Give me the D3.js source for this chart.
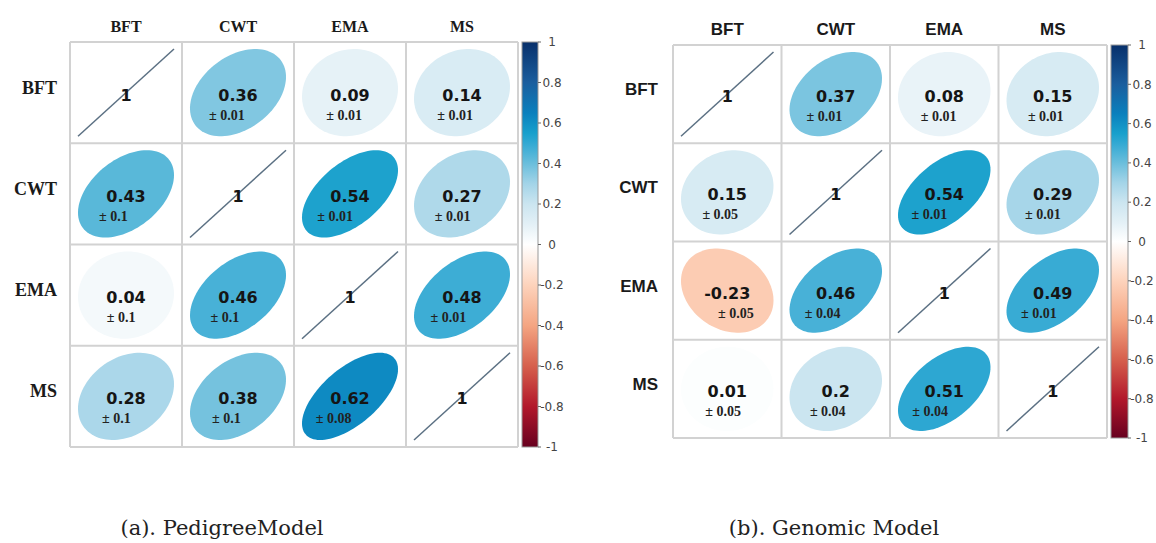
<!DOCTYPE html>
<html><head><meta charset="utf-8">
<script src="https://cdn.jsdelivr.net/npm/d3@7"></script>
<style>html,body{margin:0;padding:0;background:#fff;}</style>
</head><body>
<svg id="chart" width="1156" height="543"></svg>
<script>
const vars = ["BFT", "CWT", "EMA", "MS"];
const pedigreeR = [[1, 0.36, 0.09, 0.14], [0.43, 1, 0.54, 0.27], [0.04, 0.46, 1, 0.48], [0.28, 0.38, 0.62, 1]];
const pedigreeSE = [[null, "0.01", "0.01", "0.01"], ["0.1", null, "0.01", "0.01"], ["0.1", "0.1", null, "0.01"], ["0.1", "0.1", "0.08", null]];
const genomicR = [[1, 0.37, 0.08, 0.15], [0.15, 1, 0.54, 0.29], [-0.23, 0.46, 1, 0.49], [0.01, 0.2, 0.51, 1]];
const genomicSE = [[null, "0.01", "0.01", "0.01"], ["0.05", null, "0.01", "0.01"], ["0.05", "0.04", null, "0.01"], ["0.05", "0.04", "0.04", null]];
const legendTicks = [1, 0.8, 0.6, 0.4, 0.2, 0, -0.2, -0.4, -0.6, -0.8, -1];
const captions = ["(a). PedigreeModel", "(b). Genomic Model"];

const colStops = [-1, -0.8, -0.6, -0.4, -0.2, 0, 0.1, 0.2, 0.3, 0.4, 0.5, 0.55, 0.65, 0.8, 1];
const colVals = ["#67001F", "#B2182B", "#D6604D", "#F4A582", "#FDD3BC", "#FFFFFF", "#E3F0F6", "#CBE5F0", "#A3D4E8", "#6ABEDC", "#32A9D3", "#18A0CC", "#0A80BD", "#1B5E9E", "#08306B"];
const color = d3.scaleLinear().domain(colStops).range(colVals).interpolate(d3.interpolateRgb);

const svg = d3.select("#chart");

const panels = [
  {R: pedigreeR, SE: pedigreeSE, x0: 70, x1: 518, y0: 42, y1: 447, bar: [522, 538],
   headFont: "'Liberation Serif', serif", headSize: 16, rowSize: 18, rowX: 57, cap: captions[0], capX: 222},
  {R: genomicR, SE: genomicSE, x0: 673, x1: 1107, y0: 45, y1: 438, bar: [1111, 1128],
   headFont: "'Liberation Sans', Arial, sans-serif", headSize: 17, rowSize: 17, rowX: 658, cap: captions[1], capX: 834}
];

panels.forEach(p => {
  const g = svg.append("g");
  const xs = d3.scaleBand().domain(vars).range([p.x0, p.x1]);
  const ys = d3.scaleBand().domain(vars).range([p.y0, p.y1]);
  const cw = xs.bandwidth(), ch = ys.bandwidth();

  g.append("rect").attr("x", p.x0).attr("y", p.y0).attr("width", p.x1 - p.x0).attr("height", p.y1 - p.y0)
    .attr("fill", "#fff");

  const cells = [];
  vars.forEach((rv, i) => vars.forEach((cv, j) => cells.push({i, j, r: p.R[i][j], se: p.SE[i][j], rv, cv})));

  const cg = g.selectAll("g.cell").data(cells).join("g").attr("class", "cell")
    .attr("transform", d => `translate(${xs(d.cv) + cw / 2},${ys(d.rv) + ch / 2})`);

  const rx = cw / 2 - 8, ry = ch / 2 - 7;
  const ell = r => {
    const d = Math.acos(Math.max(-1, Math.min(1, r)));
    const pts = d3.range(0, 100).map(k => {
      const t = k / 100 * 2 * Math.PI;
      return [Math.cos(t + d / 2) * rx, -Math.cos(t - d / 2) * ry];
    });
    return d3.line().curve(d3.curveLinearClosed)(pts);
  };

  cg.filter(d => d.i !== d.j).append("path")
    .attr("d", d => ell(d.r)).attr("fill", d => color(d.r)).attr("stroke", "none");

  cg.filter(d => d.i === d.j).append("line")
    .attr("x1", -rx).attr("y1", ry).attr("x2", rx).attr("y2", -ry)
    .attr("stroke", "#5b7083").attr("stroke-width", 1.5);

  cg.append("text").attr("text-anchor", "middle").attr("y", 8)
    .attr("font-family", "'DejaVu Sans', sans-serif").attr("font-weight", "bold").attr("font-size", 16)
    .attr("fill", "#151515").text(d => String(d.r));

  cg.filter(d => d.se).append("text").attr("text-anchor", "middle")
    .attr("x", d => -(4 + 20 * Math.abs(d.r)) * Math.sign(d.r)).attr("y", 27)
    .attr("font-family", "'Liberation Serif', serif").attr("font-weight", "bold").attr("font-size", 14)
    .attr("fill", "#222").text(d => "\u00b1 " + d.se);

  const gl = g.append("g").attr("stroke", "#d2d2d2").attr("stroke-width", 2);
  d3.range(0, 5).forEach(k => {
    const x = p.x0 + k * cw, y = p.y0 + k * ch;
    gl.append("line").attr("x1", x).attr("x2", x).attr("y1", p.y0).attr("y2", p.y1);
    gl.append("line").attr("y1", y).attr("y2", y).attr("x1", p.x0).attr("x2", p.x1);
  });

  g.selectAll("text.head").data(vars).join("text").attr("class", "head")
    .attr("x", d => xs(d) + cw / 2).attr("y", p.y0 - 10).attr("text-anchor", "middle")
    .attr("font-family", p.headFont).attr("font-weight", "bold").attr("font-size", p.headSize)
    .attr("fill", "#1a1a1a").text(d => d);
  g.selectAll("text.rowl").data(vars).join("text").attr("class", "rowl")
    .attr("x", p.rowX).attr("y", d => ys(d) + ch / 2 + 1).attr("text-anchor", "end")
    .attr("font-family", p.headFont).attr("font-weight", "bold").attr("font-size", p.rowSize)
    .attr("fill", "#1a1a1a").text(d => d);

  const cy = d3.scaleLinear().domain([1, -1]).range([p.y0, p.y1]);
  const gid = "grad" + p.x0;
  const grad = svg.append("defs").append("linearGradient").attr("id", gid)
    .attr("x1", 0).attr("y1", 1).attr("x2", 0).attr("y2", 0);
  colStops.forEach((s, k) => grad.append("stop").attr("offset", (s + 1) / 2).attr("stop-color", colVals[k]));
  g.append("rect").attr("x", p.bar[0]).attr("y", p.y0).attr("width", p.bar[1] - p.bar[0]).attr("height", p.y1 - p.y0)
    .attr("fill", `url(#${gid})`).attr("stroke", "#999").attr("stroke-width", 1);
  const lg = g.selectAll("g.lt").data(legendTicks).join("g").attr("class", "lt")
    .attr("transform", d => `translate(${p.bar[1]},${cy(d)})`);
  lg.append("line").attr("x1", 0).attr("x2", 3).attr("stroke", "#666");
  lg.append("text").attr("x", 14).attr("dy", "0.35em").attr("text-anchor", "middle")
    .attr("font-family", "'DejaVu Sans', sans-serif").attr("font-size", 12).attr("fill", "#444")
    .text(d => String(d));

  svg.append("text").attr("x", p.capX).attr("y", 535).attr("text-anchor", "middle")
    .attr("font-family", "'DejaVu Serif', serif").attr("font-size", 21).attr("fill", "#222").text(p.cap);
});
</script>
</body></html>
